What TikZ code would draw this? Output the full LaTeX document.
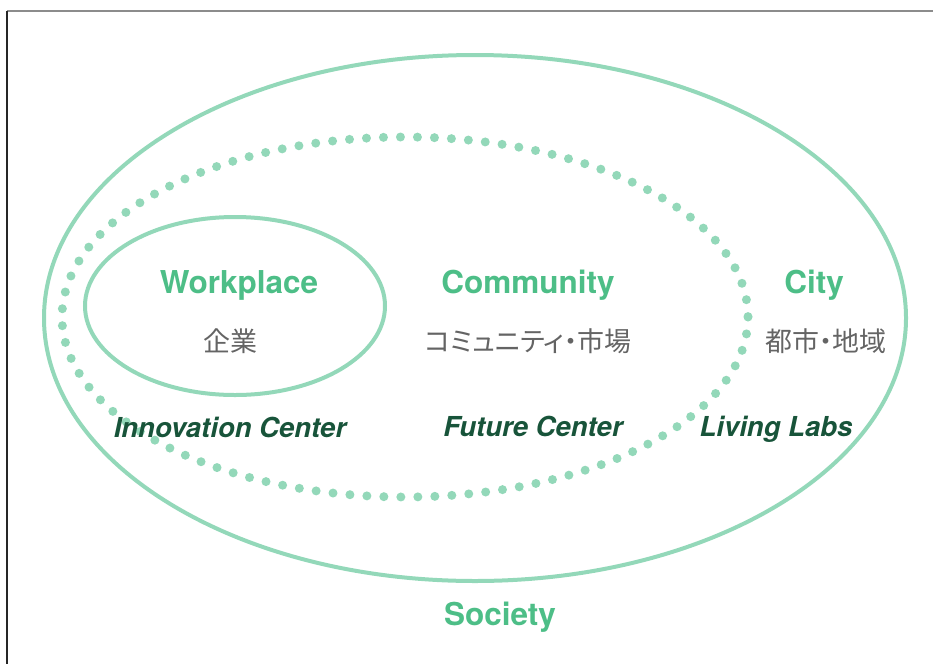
\documentclass[tikz,border=0pt]{standalone}
\usepackage{fontspec}
\setmainfont{TeX Gyre Heros}
\newfontfamily\jafont{Noto Sans CJK JP}[RawFeature=+palt]
\usetikzlibrary{positioning}

\definecolor{leaf}{RGB}{77,190,135}
\definecolor{mint}{RGB}{147,216,185}
\definecolor{pine}{RGB}{24,84,58}
\definecolor{ash}{RGB}{100,100,100}

\begin{document}
\begin{tikzpicture}[x=1pt,y=-1pt,
        ring/.style={draw=mint,line width=4pt},
        dots/.style={draw=mint,line width=9pt,line cap=round,dash pattern=on 0pt off 17pt},
        title/.style={font=\fontsize{31.5}{36}\selectfont\bfseries,text=leaf,anchor=base,inner sep=0pt},
        ja/.style={font=\fontsize{27}{32}\selectfont\jafont,text=ash,anchor=base,inner sep=0pt},
        lab/.style={font=\fontsize{27.5}{32}\selectfont\bfseries\itshape,text=pine,anchor=base,inner sep=0pt}]

  \useasboundingbox (0,0) rectangle (933,664);
  \draw[gray!90,line width=1.3pt] (7,11) -- (933,11);
  \draw[black!85,line width=1.3pt] (7,11) -- (7,664);

  % society, community, workplace
  \draw[ring] (475,318) ellipse [x radius=431, y radius=263];
  \draw[dots] (405,317) ellipse [x radius=343, y radius=180];
  \draw[ring] (235,306) ellipse [x radius=150, y radius=89];

  \node[title] (workplace) at (239,293) {Workplace};
  \node[title] (community) at (528,293) {Community};
  \node[title] (city)      at (814,293) {City};
  \node[title] (society)   at (500,625) {Society};

  \node[ja] (kigyo)  at (230,351) {企業};
  \node[ja] (shijo)  at (528,351) {コミュニティ・市場};
  \node[ja] (chiiki) at (826,351) {都市・地域};

  \node[lab] (innovation) at (230,437) {Innovation Center};
  \node[lab] (future)     at (533,436) {Future Center};
  \node[lab] (living)     at (776,436) {Living Labs};

\end{tikzpicture}
\end{document}
